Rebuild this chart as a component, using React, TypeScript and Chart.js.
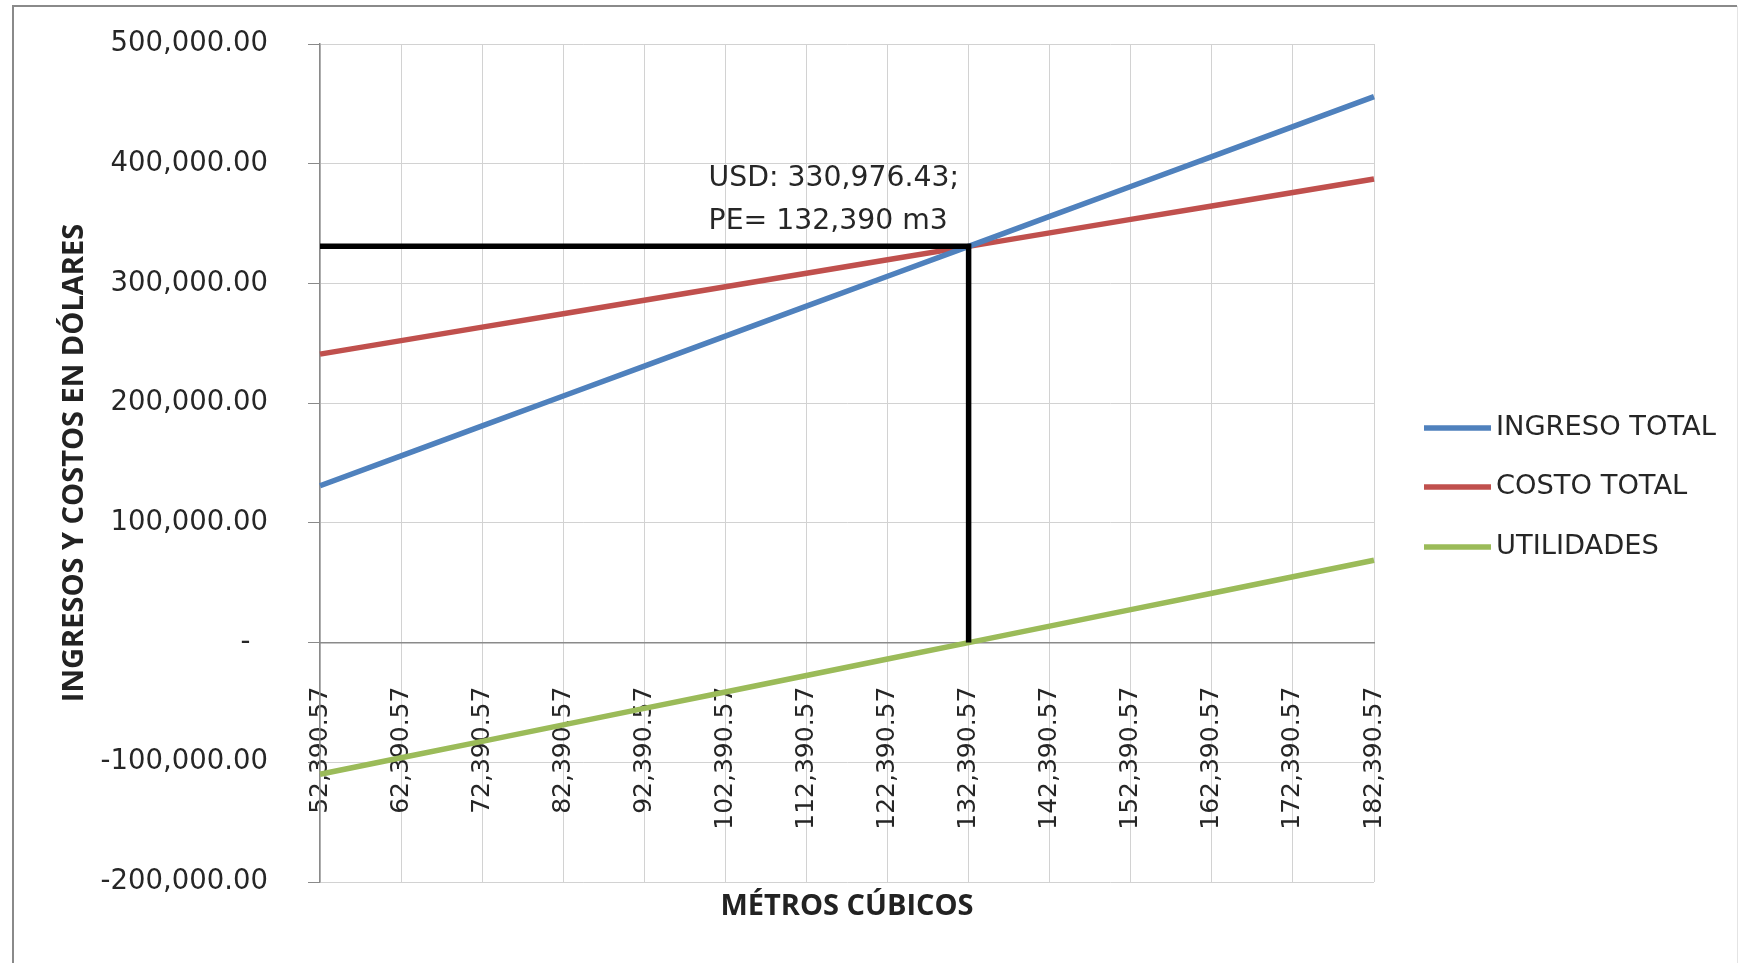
import React, { useEffect, useRef } from 'react';
import { Chart, registerables } from 'chart.js';

Chart.register(...registerables);

// ---------- data ----------
const categories = [
  '52,390.57', '62,390.57', '72,390.57', '82,390.57', '92,390.57', '102,390.57', '112,390.57',
  '122,390.57', '132,390.57', '142,390.57', '152,390.57', '162,390.57', '172,390.57', '182,390.57',
];
const ingresoTotal = [
  130976.43, 155976.43, 180976.43, 205976.43, 230976.43, 255976.43, 280976.43,
  305976.43, 330976.43, 355976.43, 380976.43, 405976.43, 430976.43, 455976.43,
];
const costoTotal = [
  240976.43, 252226.43, 263476.43, 274726.43, 285976.43, 297226.43, 308476.43,
  319726.43, 330976.43, 342226.43, 353476.43, 364726.43, 375976.43, 387226.43,
];
const utilidades = [
  -110000, -96250, -82500, -68750, -55000, -41250, -27500,
  -13750, 0, 13750, 27500, 41250, 55000, 68750,
];
const seriesNames = ['INGRESO TOTAL', 'COSTO TOTAL', 'UTILIDADES'];
const seriesColors = ['#4F81BD', '#C0504D', '#9BBB59'];
const breakEvenCategory = '132,390.57';
const breakEvenValue = 330976.43;
const annotationLines = ['USD: 330,976.43;', 'PE= 132,390 m3'];
const yMin = -200000;
const yMax = 500000;
const yStep = 100000;
const yTitle = 'INGRESOS Y COSTOS EN DÓLARES';
const xTitle = 'MÉTROS CÚBICOS';

const REG = 'DejaVu Sans';
const BOLD = '"Open Sans"';

const decorPlugin = {
  id: 'decor',
  afterDraw(chart: any) {
    const ctx = chart.ctx as CanvasRenderingContext2D;
    const { chartArea, scales } = chart;
    ctx.save();

    // outer frame
    ctx.strokeStyle = '#8a8a8a';
    ctx.lineWidth = 2;
    ctx.beginPath();
    ctx.moveTo(13, 1000);
    ctx.lineTo(13, 6);
    ctx.lineTo(1737, 6);
    ctx.stroke();
    ctx.strokeStyle = '#e4e4e4';
    ctx.lineWidth = 1;
    ctx.beginPath();
    ctx.moveTo(1737.5, 6);
    ctx.lineTo(1737.5, 1000);
    ctx.stroke();

    // axis titles
    ctx.fillStyle = '#222';
    ctx.font = `bold 29px ${BOLD}`;
    ctx.textAlign = 'center';
    ctx.textBaseline = 'middle';
    ctx.save();
    ctx.translate(75, 463);
    ctx.rotate(-Math.PI / 2);
    ctx.fillText(yTitle, 0, 0);
    ctx.restore();
    ctx.font = `bold 29px ${BOLD}`;
    ctx.fillText(xTitle, (chartArea.left + chartArea.right) / 2, 907);

    // legend
    const legendY = [428, 487, 547];
    seriesNames.forEach((name, i) => {
      ctx.strokeStyle = seriesColors[i];
      ctx.lineWidth = 5.5;
      ctx.beginPath();
      ctx.moveTo(1424, legendY[i]);
      ctx.lineTo(1491, legendY[i]);
      ctx.stroke();
      ctx.fillStyle = '#262626';
      ctx.font = `27.3px ${REG}`;
      ctx.textAlign = 'left';
      ctx.textBaseline = 'middle';
      ctx.fillText(name, 1496, legendY[i]);
    });

    // break-even annotation
    const bx = scales.x.getPixelForValue(categories.indexOf(breakEvenCategory));
    const by = scales.y.getPixelForValue(breakEvenValue);
    ctx.fillStyle = '#262626';
    ctx.font = `28.3px ${REG}`;
    ctx.textAlign = 'left';
    ctx.textBaseline = 'middle';
    ctx.fillText(annotationLines[0], bx - 260, by - 68);
    ctx.fillText(annotationLines[1], bx - 260, by - 25);

    ctx.restore();
  },
};

const zeroPad = (s: any) => {
  s.paddingTop = 0;
  s.paddingBottom = 0;
  s.paddingLeft = 0;
  s.paddingRight = 0;
};

export default function App() {
  const ref = useRef<HTMLCanvasElement | null>(null);

  useEffect(() => {
    if (!ref.current) return;
    const fmt = (v: number) =>
      v === 0
        ? '-  '
        : v.toLocaleString('en-US', { minimumFractionDigits: 2, maximumFractionDigits: 2 });

    const chart = new Chart(ref.current, {
      type: 'line',
      data: {
        labels: categories,
        datasets: [
          {
            label: 'PE',
            data: [
              { x: categories[0], y: breakEvenValue },
              { x: breakEvenCategory, y: breakEvenValue },
              { x: breakEvenCategory, y: 0 },
            ] as any,
            borderColor: '#000',
            borderWidth: 5.5,
            pointRadius: 0,
            order: 0,
            borderCapStyle: 'butt',
          },
          {
            label: seriesNames[0],
            data: ingresoTotal,
            borderColor: seriesColors[0],
            borderWidth: 5.5,
            pointRadius: 0,
            order: 1,
          },
          {
            label: seriesNames[1],
            data: costoTotal,
            borderColor: seriesColors[1],
            borderWidth: 5.5,
            pointRadius: 0,
            order: 2,
          },
          {
            label: seriesNames[2],
            data: utilidades,
            borderColor: seriesColors[2],
            borderWidth: 5.5,
            pointRadius: 0,
            order: 3,
          },
        ],
      },
      options: {
        animation: false,
        responsive: false,
        devicePixelRatio: 1,
        layout: { padding: { left: 0, top: 44, right: 367, bottom: 81 } },
        plugins: {
          legend: { display: false },
          tooltip: { enabled: false },
        },
        scales: {
          x: {
            type: 'category',
            position: { y: 0 } as any,
            offset: false,
            afterFit: zeroPad,
            grid: { color: '#d2d2d2', drawTicks: false, offset: false },
            border: { color: '#8a8a8a', width: 1.5 },
            ticks: {
              autoSkip: false,
              minRotation: 90,
              maxRotation: 90,
              padding: 44,
              color: '#262626',
              font: { family: REG, size: 25 },
            },
          },
          y: {
            position: 'left',
            min: yMin,
            max: yMax,
            afterFit: (s: any) => {
              s.width = 320;
              zeroPad(s);
            },
            grid: { color: '#d2d2d2', tickLength: 12, tickColor: '#8a8a8a' },
            border: { color: '#8a8a8a', width: 1.5 },
            ticks: {
              stepSize: yStep,
              padding: 40,
              color: '#262626',
              font: { family: REG, size: 27.5 },
              callback: (v: any) => fmt(Number(v)),
            },
          },
        },
      },
      plugins: [decorPlugin],
    });
    return () => chart.destroy();
  }, []);

  return (
    <div style={{ position: 'fixed', left: 0, top: 0, width: 1741, height: 963, background: '#fff' }}>
      <canvas ref={ref} width={1741} height={963} style={{ display: 'block' }} />
    </div>
  );
}
